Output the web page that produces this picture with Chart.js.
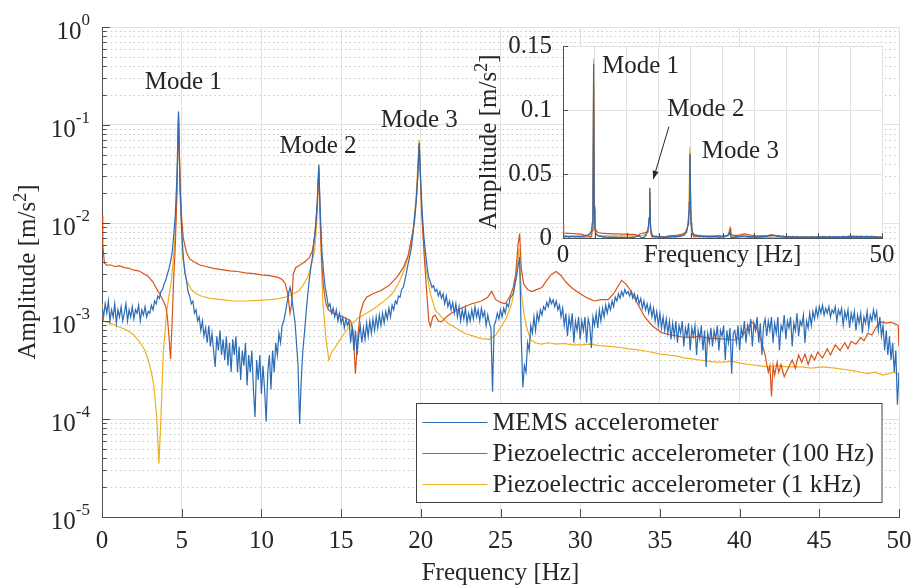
<!DOCTYPE html>
<html>
<head>
<meta charset="utf-8">
<script src="https://cdn.jsdelivr.net/npm/chart.js@4.4.1/dist/chart.umd.min.js"></script>
<style>
  html, body { margin: 0; padding: 0; background: #fff; }
  #wrap { position: relative; width: 914px; height: 588px; }
  #main { position: absolute; left: 0; top: 0; }
  #inset { position: absolute; left: 460px; top: 20px; }
</style>
</head>
<body>
<div id="wrap">
  <canvas id="main" width="914" height="588"></canvas>
  <canvas id="inset" width="440" height="260"></canvas>
</div>
<script>
// ---- data ----
const decades = [1e-5, 1e-4, 1e-3, 1e-2, 1e-1, 1];
const minorSteps = [2, 3, 4, 5, 6, 7, 8, 9];

// MEMS spectrum, sampled every 0.1 Hz from 0 to 50 Hz (one row per Hz)
const memsStep = 0.1;
const memsAmp = [
  1.4e-3, 1.1e-3, 1.5e-3, 1.2e-3, 1.6e-3, 1.0e-3, 1.3e-3, 1.1e-3, 1.5e-3, 9.5e-4,
  1.3e-3, 1.1e-3, 1.4e-3, 1.0e-3, 1.2e-3, 1.5e-3, 1.0e-3, 1.3e-3, 1.1e-3, 1.4e-3,
  1.05e-3, 1.3e-3, 1.2e-3, 1.45e-3, 1.0e-3, 1.3e-3, 1.15e-3, 1.4e-3, 1.1e-3, 1.25e-3,
  1.2e-3, 1.45e-3, 1.3e-3, 1.6e-3, 1.5e-3, 1.8e-3, 1.7e-3, 2.0e-3, 2.1e-3, 2.4e-3,
  2.6e-3, 3.0e-3, 3.4e-3, 4.0e-3, 5.0e-3, 7.5e-3, 0.012, 0.03, 0.136, 0.022,
  8e-3, 4.5e-3, 3.1e-3, 2.6e-3, 2.0e-3, 1.8e-3, 1.5e-3, 1.6e-3, 1.2e-3, 1.3e-3,
  1.0e-3, 1.1e-3, 8e-4, 1.0e-3, 7e-4, 8.5e-4, 6e-4, 9e-4, 5.5e-4, 7.5e-4,
  5e-4, 3.4e-4, 7e-4, 5e-4, 8e-4, 4.5e-4, 6.5e-4, 4e-4, 7e-4, 3.5e-4,
  6e-4, 3e-4, 6.5e-4, 4.5e-4, 7e-4, 3e-4, 5.5e-4, 2.5e-4, 5e-4, 3.5e-4,
  6e-4, 2.2e-4, 4.5e-4, 3e-4, 5e-4, 2e-4, 1.05e-4, 4e-4, 2.5e-4, 4.5e-4,
  1.8e-4, 3.5e-4, 2e-4, 9.4e-5, 3e-4, 4.5e-4, 2e-4, 5e-4, 3e-4, 6e-4,
  4.5e-4, 7.5e-4, 6e-4, 9e-4, 1.0e-3, 1.2e-3, 1.5e-3, 1.9e-3, 2.2e-3, 1.8e-3,
  1.3e-3, 1.0e-3, 6e-4, 3.5e-4, 8.9e-5, 2.5e-4, 5e-4, 7.5e-4, 1.2e-3, 1.8e-3,
  2.6e-3, 3.5e-3, 4.5e-3, 6.5e-3, 9e-3, 0.016, 0.039, 0.012, 5e-3, 3.2e-3,
  2.2e-3, 1.8e-3, 1.4e-3, 1.5e-3, 1.2e-3, 1.35e-3, 1.1e-3, 1.3e-3, 1.0e-3, 1.2e-3,
  9.5e-4, 1.1e-3, 8.5e-4, 1.05e-3, 9e-4, 1.0e-3, 6e-4, 9e-4, 5e-4, 8e-4,
  4.5e-4, 7e-4, 9e-4, 6e-4, 8.5e-4, 6.5e-4, 9.5e-4, 7e-4, 1.0e-3, 7.5e-4,
  1.05e-3, 8e-4, 1.1e-3, 8.5e-4, 1.15e-3, 9e-4, 1.2e-3, 9.5e-4, 1.25e-3, 1.05e-3,
  1.35e-3, 1.1e-3, 1.45e-3, 1.3e-3, 1.6e-3, 1.5e-3, 1.8e-3, 1.75e-3, 2.1e-3, 2.2e-3,
  2.6e-3, 3.1e-3, 3.8e-3, 4.5e-3, 5.5e-3, 7.5e-3, 0.011, 0.016, 0.028, 0.066,
  0.025, 0.012, 7e-3, 4.9e-3, 3.5e-3, 2.8e-3, 2.5e-3, 2.2e-3, 2.3e-3, 2.0e-3,
  2.1e-3, 1.8e-3, 2.0e-3, 1.7e-3, 1.9e-3, 1.5e-3, 1.8e-3, 1.4e-3, 1.6e-3, 1.3e-3,
  1.55e-3, 1.2e-3, 1.5e-3, 1.1e-3, 1.4e-3, 1.0e-3, 1.3e-3, 1.05e-3, 1.35e-3, 9.5e-4,
  1.2e-3, 1.0e-3, 1.3e-3, 1.05e-3, 1.4e-3, 1.1e-3, 1.3e-3, 1.0e-3, 1.35e-3, 1.1e-3,
  1.25e-3, 9e-4, 1.15e-3, 9.5e-4, 8.5e-4, 1.9e-4, 9e-4, 1.0e-3, 1.2e-3, 1.05e-3,
  1.3e-3, 1.1e-3, 1.35e-3, 1.2e-3, 1.5e-3, 1.4e-3, 1.7e-3, 1.8e-3, 1.9e-3, 2.4e-3,
  2.8e-3, 3.6e-3, 4.5e-3, 7e-4, 2.1e-4, 3.5e-4, 3e-4, 6e-4, 5e-4, 9e-4,
  7.5e-4, 1.1e-3, 8e-4, 1.2e-3, 1.0e-3, 1.3e-3, 1.15e-3, 1.4e-3, 1.3e-3, 1.55e-3,
  1.4e-3, 1.7e-3, 1.5e-3, 1.65e-3, 1.4e-3, 1.6e-3, 1.3e-3, 1.45e-3, 1.1e-3, 1.35e-3,
  9e-4, 1.2e-3, 7e-4, 1.1e-3, 8.5e-4, 1.2e-3, 6e-4, 1.0e-3, 8e-4, 1.1e-3,
  6.5e-4, 1.0e-3, 8e-4, 1.1e-3, 6e-4, 1.05e-3, 9e-4, 5.3e-4, 1.1e-3, 9e-4,
  1.2e-3, 8.5e-4, 1.3e-3, 1.0e-3, 1.35e-3, 1.1e-3, 1.45e-3, 1.2e-3, 1.5e-3, 1.3e-3,
  1.6e-3, 1.4e-3, 1.75e-3, 1.6e-3, 1.9e-3, 1.7e-3, 2.0e-3, 1.8e-3, 2.1e-3, 1.9e-3,
  2.0e-3, 1.8e-3, 2.0e-3, 1.7e-3, 1.9e-3, 1.6e-3, 1.8e-3, 1.5e-3, 1.7e-3, 1.35e-3,
  1.6e-3, 1.3e-3, 1.5e-3, 1.2e-3, 1.45e-3, 1.1e-3, 1.35e-3, 1.0e-3, 1.25e-3, 9e-4,
  1.2e-3, 8.5e-4, 1.1e-3, 8e-4, 1.05e-3, 7.5e-4, 1.0e-3, 6.5e-4, 9.5e-4, 7e-4,
  1.0e-3, 6e-4, 9e-4, 7.5e-4, 1.0e-3, 5.5e-4, 8.5e-4, 7e-4, 9.5e-4, 5e-4,
  8.5e-4, 7e-4, 9e-4, 4.5e-4, 8e-4, 6.5e-4, 9e-4, 5e-4, 8e-4, 3.4e-4,
  7.5e-4, 6e-4, 8.5e-4, 5.5e-4, 8e-4, 6.5e-4, 9e-4, 5e-4, 8e-4, 7e-4,
  9e-4, 4e-4, 8e-4, 6e-4, 8.5e-4, 2.9e-4, 7.5e-4, 8e-4, 6e-4, 9e-4,
  5e-4, 8.5e-4, 7e-4, 1.0e-3, 6e-4, 9e-4, 7.5e-4, 1.05e-3, 5.5e-4, 9.5e-4,
  8e-4, 1.1e-3, 6e-4, 9.5e-4, 4.5e-4, 9e-4, 1.05e-3, 7e-4, 1.0e-3, 8e-4,
  1.1e-3, 6e-4, 9.5e-4, 7.5e-4, 1.1e-3, 5e-4, 9e-4, 8e-4, 1.15e-3, 6.5e-4,
  1.0e-3, 8.5e-4, 1.1e-3, 5.5e-4, 9.5e-4, 8e-4, 1.2e-3, 7e-4, 1.0e-3, 9e-4,
  1.15e-3, 6e-4, 1.0e-3, 8.5e-4, 1.2e-3, 9e-4, 1.25e-3, 1.05e-3, 1.35e-3, 1.1e-3,
  1.4e-3, 1.2e-3, 1.45e-3, 1.15e-3, 1.35e-3, 1.2e-3, 1.4e-3, 1.1e-3, 1.3e-3, 1.2e-3,
  1.4e-3, 1.0e-3, 1.3e-3, 1.15e-3, 1.35e-3, 9e-4, 1.25e-3, 1.05e-3, 1.3e-3, 8.5e-4,
  1.2e-3, 1.0e-3, 1.25e-3, 8e-4, 1.15e-3, 9.5e-4, 1.2e-3, 7.5e-4, 1.1e-3, 9.5e-4,
  1.25e-3, 8.5e-4, 1.15e-3, 1.0e-3, 1.3e-3, 1.05e-3, 1.25e-3, 8e-4, 1.1e-3, 7e-4,
  9e-4, 5e-4, 8e-4, 4.5e-4, 7e-4, 4e-4, 6e-4, 3e-4, 5e-4, 1.4e-4,
  3e-4
];

// piezoelectric accelerometer, 100 Hz range: [frequency Hz, amplitude m/s^2]
const piezo100 = [
  [0, 0.012], [0.05, 6e-3], [0.15, 3.9e-3], [0.3, 3.7e-3], [0.5, 3.75e-3], [0.8, 3.6e-3],
  [1.1, 3.65e-3], [1.4, 3.5e-3], [1.7, 3.45e-3], [2.0, 3.3e-3], [2.3, 3.25e-3], [2.6, 3.05e-3],
  [2.9, 2.85e-3], [3.2, 2.5e-3], [3.45, 2.1e-3], [3.65, 1.85e-3], [3.85, 1.6e-3], [4.0, 1.4e-3],
  [4.1, 1.1e-3], [4.2, 7e-4], [4.3, 4.1e-4], [4.4, 1.0e-3], [4.5, 2.8e-3], [4.6, 6e-3],
  [4.7, 0.02], [4.8, 0.12], [4.9, 0.025], [5.0, 0.011], [5.1, 7e-3], [5.3, 5e-3],
  [5.5, 4.3e-3], [5.8, 4.0e-3], [6.1, 3.75e-3], [6.5, 3.6e-3], [7.0, 3.45e-3], [7.5, 3.35e-3],
  [8.0, 3.25e-3], [8.5, 3.2e-3], [9.0, 3.1e-3], [9.5, 3.05e-3], [10.0, 2.95e-3], [10.5, 2.9e-3],
  [11.0, 2.8e-3], [11.3, 2.65e-3], [11.5, 2.4e-3], [11.65, 1.9e-3], [11.8, 1.2e-3], [11.9, 1.5e-3],
  [12.0, 3.0e-3], [12.15, 3.5e-3], [12.4, 3.7e-3], [12.7, 4.0e-3], [13.0, 4.4e-3], [13.2, 5.2e-3],
  [13.35, 7.5e-3], [13.5, 0.015], [13.6, 0.036], [13.7, 0.01], [13.8, 3.5e-3], [13.9, 2.2e-3],
  [14.05, 1.5e-3], [14.2, 1.3e-3], [14.5, 1.2e-3], [14.8, 1.15e-3], [15.1, 1.1e-3], [15.4, 1.05e-3],
  [15.6, 1.0e-3], [15.75, 8e-4], [15.9, 2.9e-4], [16.05, 7e-4], [16.2, 1.2e-3], [16.4, 1.55e-3],
  [16.6, 1.75e-3], [17.0, 1.9e-3], [17.5, 2.05e-3], [18.0, 2.3e-3], [18.5, 2.8e-3], [18.9, 3.5e-3],
  [19.2, 4.6e-3], [19.45, 7.5e-3], [19.6, 0.01], [19.75, 0.02], [19.9, 0.065], [20.05, 0.014],
  [20.2, 5e-3], [20.35, 2.2e-3], [20.5, 1.0e-3], [20.6, 8.8e-4], [20.75, 1.1e-3], [20.9, 1.15e-3],
  [21.1, 1.0e-3], [21.3, 9.8e-4], [21.6, 1.1e-3], [21.9, 1.2e-3], [22.3, 1.3e-3], [22.75, 1.4e-3],
  [23.2, 1.5e-3], [23.8, 1.6e-3], [24.2, 1.75e-3], [24.45, 2.0e-3], [24.7, 1.65e-3], [25.0, 1.55e-3],
  [25.3, 1.5e-3], [25.6, 1.8e-3], [25.8, 2.2e-3], [25.95, 3e-3], [26.1, 6e-3], [26.2, 7.8e-3],
  [26.3, 3.5e-3], [26.45, 2.4e-3], [26.7, 2.1e-3], [26.95, 2.0e-3], [27.3, 2.1e-3], [27.6, 2.2e-3],
  [27.9, 2.6e-3], [28.2, 3.0e-3], [28.5, 3.2e-3], [28.8, 2.9e-3], [29.1, 2.5e-3], [29.45, 2.2e-3],
  [29.8, 2.0e-3], [30.1, 1.85e-3], [30.5, 1.7e-3], [30.9, 1.6e-3], [31.3, 1.65e-3], [31.75, 1.65e-3],
  [32.1, 1.9e-3], [32.4, 2.3e-3], [32.6, 2.6e-3], [32.9, 2.35e-3], [33.2, 2.0e-3], [33.6, 1.5e-3],
  [34.05, 1.1e-3], [34.5, 9e-4], [35.1, 7.6e-4], [35.7, 7.2e-4], [36.35, 6.9e-4], [37.0, 6.8e-4],
  [37.5, 7e-4], [38.0, 6.7e-4], [38.6, 6.6e-4], [39.2, 6.5e-4], [39.7, 6.4e-4], [40.1, 6.8e-4],
  [40.4, 8e-4], [40.75, 9.8e-4], [41.0, 9e-4], [41.2, 7.5e-4], [41.4, 6e-4], [41.6, 4.5e-4],
  [41.8, 3e-4], [41.9, 3.5e-4], [42.0, 1.7e-4], [42.1, 3.5e-4], [42.2, 2.8e-4], [42.35, 3.8e-4],
  [42.45, 3e-4], [42.6, 3.6e-4], [42.8, 2.7e-4], [43.05, 3.3e-4], [43.3, 4e-4], [43.5, 3.3e-4],
  [43.7, 4.5e-4], [43.9, 3.8e-4], [44.1, 4.6e-4], [44.3, 3.6e-4], [44.5, 4.5e-4], [44.7, 4e-4],
  [44.9, 4.8e-4], [45.2, 4.2e-4], [45.5, 5.2e-4], [45.7, 4.5e-4], [46.0, 5.7e-4], [46.3, 5e-4],
  [46.6, 6e-4], [46.8, 5.2e-4], [47.0, 6.2e-4], [47.3, 5.8e-4], [47.6, 6.8e-4], [47.8, 6.3e-4],
  [48.05, 7.5e-4], [48.3, 7.2e-4], [48.6, 8.8e-4], [48.9, 9.8e-4], [49.2, 9.5e-4], [49.5, 9.7e-4],
  [49.8, 9.3e-4], [49.95, 9e-4], [50, 5.5e-4]
];

// piezoelectric accelerometer, 1 kHz range
const piezo1k = [
  [0, 1.5e-3], [0.1, 1.0e-3], [0.5, 9.5e-4], [1.0, 8.8e-4], [1.55, 8.1e-4], [2.0, 7.2e-4],
  [2.4, 6e-4], [2.7, 5e-4], [2.9, 4e-4], [3.1, 3e-4], [3.25, 2.2e-4], [3.43, 1.06e-4],
  [3.57, 3.5e-5], [3.7, 1.05e-4], [3.84, 4.7e-4], [4.05, 1.2e-3], [4.2, 1.8e-3], [4.36, 2.6e-3],
  [4.57, 6.7e-3], [4.7, 0.02], [4.8, 0.14], [4.9, 0.02], [5.06, 4.5e-3], [5.3, 2.6e-3],
  [5.6, 2.1e-3], [5.9, 1.9e-3], [6.3, 1.78e-3], [6.8, 1.7e-3], [7.5, 1.65e-3], [8.2, 1.6e-3],
  [9.0, 1.6e-3], [9.8, 1.62e-3], [10.5, 1.65e-3], [11.0, 1.68e-3], [11.5, 1.75e-3], [12.0, 1.9e-3],
  [12.3, 2.0e-3], [12.6, 2.3e-3], [12.9, 2.8e-3], [13.15, 3.8e-3], [13.35, 5.3e-3], [13.5, 0.012],
  [13.6, 0.0395], [13.7, 8e-3], [13.85, 1.6e-3], [14.06, 6.4e-4], [14.23, 4e-4], [14.4, 4.8e-4],
  [14.6, 5.3e-4], [14.9, 6.3e-4], [15.2, 7.5e-4], [15.6, 9e-4], [16.05, 1.07e-3], [16.6, 1.2e-3],
  [17.1, 1.35e-3], [17.6, 1.55e-3], [18.15, 1.85e-3], [18.6, 2.4e-3], [18.95, 3.3e-3], [19.25, 4.8e-3],
  [19.5, 7.9e-3], [19.7, 0.018], [19.9, 0.0708], [20.05, 0.012], [20.3, 3.6e-3], [20.6, 1.9e-3],
  [20.9, 1.3e-3], [21.3, 1.1e-3], [21.7, 9.5e-4], [22.2, 8.5e-4], [22.75, 7.5e-4], [23.3, 7e-4],
  [23.8, 6.6e-4], [24.3, 6.5e-4], [24.7, 7.2e-4], [25.05, 8.8e-4], [25.4, 1.1e-3], [25.7, 1.5e-3],
  [25.95, 2.5e-3], [26.15, 5.5e-3], [26.3, 2.0e-3], [26.5, 1.1e-3], [26.7, 8e-4], [26.9, 6.4e-4],
  [27.2, 6e-4], [27.55, 5.8e-4], [28.0, 6e-4], [28.5, 5.8e-4], [29.0, 5.9e-4], [29.5, 5.7e-4],
  [30.1, 5.7e-4], [30.6, 5.8e-4], [31.2, 5.6e-4], [31.8, 5.5e-4], [32.4, 5.4e-4], [33.0, 5.2e-4],
  [33.5, 5.1e-4], [33.9, 5e-4], [34.5, 4.8e-4], [35.0, 4.6e-4], [35.5, 4.5e-4], [36.0, 4.4e-4],
  [36.5, 4.2e-4], [37.0, 4.1e-4], [37.5, 4e-4], [38.0, 3.9e-4], [38.5, 3.8e-4], [39.0, 3.8e-4],
  [39.5, 3.9e-4], [40.1, 3.7e-4], [40.6, 3.6e-4], [41.2, 3.5e-4], [41.8, 3.4e-4], [42.4, 3.5e-4],
  [43.0, 3.4e-4], [43.9, 3.4e-4], [44.5, 3.3e-4], [45.2, 3.4e-4], [46.0, 3.3e-4], [46.6, 3.2e-4],
  [47.2, 3.1e-4], [47.6, 3e-4], [48.0, 2.9e-4], [48.5, 3e-4], [49.0, 2.8e-4], [49.7, 3e-4],
  [50, 2.8e-4]
];

const seriesLabels = [
  'MEMS accelerometer',
  'Piezoelectric accelerometer (100 Hz)',
  'Piezoelectric accelerometer (1 kHz)'
];
const seriesColors = ['#2c6cb6', '#d95319', '#edb120'];

// annotation anchors in data units [Hz, m/s^2]
const modeLabels = ['Mode 1', 'Mode 2', 'Mode 3'];
const modeMainAt = [[5.1, 0.275], [13.55, 0.06], [19.9, 0.112]];
const modeInsetAt = [[12.15, 0.134], [22.4, 0.1008], [27.8, 0.0673]];
const insetArrow = [[16.6, 0.087], [14.15, 0.046]];

// ---- styling ----
const FONT = '"Liberation Serif", "Times New Roman", serif';
const TEXT = '#262626';
const AXIS = '#505050';
const GRID = '#e2e2e2';
const DOT = '#c9c9c9';

function makeDatasets() {
  const mems = memsAmp.map((a, i) => ({ x: Math.round(i * memsStep * 10) / 10, y: a }));
  const p100 = piezo100.map(p => ({ x: p[0], y: p[1] }));
  const p1k = piezo1k.map(p => ({ x: p[0], y: p[1] }));
  return [mems, p100, p1k].map((d, i) => ({
    label: seriesLabels[i],
    data: d,
    borderColor: seriesColors[i],
    borderWidth: 1.2,
    pointRadius: 0,
    fill: false,
    tension: 0
  }));
}

// inward tick marks like MATLAB
function drawTicks(ctx, scale, values, len, area, vertical) {
  ctx.beginPath();
  values.forEach(v => {
    const p = Math.round(scale.getPixelForValue(v)) + 0.5;
    if (vertical) { ctx.moveTo(area.left, p); ctx.lineTo(area.left + len, p); }
    else { ctx.moveTo(p, area.bottom); ctx.lineTo(p, area.bottom - len); }
  });
  ctx.stroke();
}

// rotated "Amplitude [m/s^2]" with a real superscript
function drawYTitle(ctx, cx, cy) {
  const parts = [['Amplitude [m/s', 25, 0], ['2', 18, -7], [']', 25, 0]];
  ctx.save();
  ctx.translate(cx, cy);
  ctx.rotate(-Math.PI / 2);
  ctx.fillStyle = TEXT;
  ctx.textBaseline = 'middle';
  ctx.textAlign = 'left';
  let total = 0;
  parts.forEach(p => { ctx.font = p[1] + 'px ' + FONT; total += ctx.measureText(p[0]).width; });
  let px = -total / 2;
  parts.forEach(p => {
    ctx.font = p[1] + 'px ' + FONT;
    ctx.fillText(p[0], px, p[2]);
    px += ctx.measureText(p[0]).width;
  });
  ctx.restore();
}

const mainDecor = {
  id: 'mainDecor',
  beforeDatasetsDraw(chart) {
    const { ctx, chartArea: a, scales: { y } } = chart;
    ctx.save();
    ctx.strokeStyle = DOT;
    ctx.lineWidth = 1;
    ctx.setLineDash([1.5, 3]);
    decades.slice(0, -1).forEach(d => minorSteps.forEach(m => {
      const py = Math.round(y.getPixelForValue(d * m)) + 0.5;
      ctx.beginPath(); ctx.moveTo(a.left, py); ctx.lineTo(a.right, py); ctx.stroke();
    }));
    ctx.restore();
  },
  afterDatasetsDraw(chart) {
    const { ctx, chartArea: a, scales: { x, y } } = chart;
    ctx.save();
    ctx.strokeStyle = AXIS;
    ctx.lineWidth = 1;
    const minors = [];
    decades.slice(0, -1).forEach(d => minorSteps.forEach(m => minors.push(d * m)));
    drawTicks(ctx, y, decades, 8, a, true);
    drawTicks(ctx, y, minors, 4.5, a, true);
    drawTicks(ctx, x, x.ticks.map(t => t.value), 8, a, false);

    // y tick labels 10^n
    ctx.fillStyle = TEXT;
    ctx.textBaseline = 'alphabetic';
    ctx.textAlign = 'left';
    decades.forEach(v => {
      const py = y.getPixelForValue(v);
      const e = String(Math.round(Math.log10(v)));
      ctx.font = '25px ' + FONT;
      const wb = ctx.measureText('10').width;
      ctx.font = '17px ' + FONT;
      const we = ctx.measureText(e).width;
      const right = a.left - 12;
      ctx.fillText(e, right - we, py - 2);
      ctx.font = '25px ' + FONT;
      ctx.fillText('10', right - we - wb, py + 12);
    });
    drawYTitle(ctx, 28.6, (a.top + a.bottom) / 2);

    // mode labels
    ctx.font = '25px ' + FONT;
    ctx.textAlign = 'center';
    ctx.textBaseline = 'middle';
    modeLabels.forEach((t, i) => {
      ctx.fillText(t, x.getPixelForValue(modeMainAt[i][0]), y.getPixelForValue(modeMainAt[i][1]));
    });

    // legend box, bottom right of the axes
    const rowGap = 31;
    ctx.font = '25.7px ' + FONT;
    const maxW = Math.max(...chart.data.datasets.map(d => ctx.measureText(d.label).width));
    const boxW = 6 + 65 + 5 + maxW + 8;
    const boxH = 99;
    const bx = Math.round(a.right - 17 - boxW) + 0.5;
    const by = Math.round(a.bottom - 15 - boxH) + 0.5;
    ctx.fillStyle = '#ffffff';
    ctx.fillRect(bx, by, boxW, boxH);
    ctx.strokeStyle = '#404040';
    ctx.strokeRect(bx, by, boxW, boxH);
    ctx.textAlign = 'left';
    ctx.textBaseline = 'middle';
    chart.data.datasets.forEach((d, i) => {
      const ry = by + 19 + i * rowGap;
      ctx.strokeStyle = d.borderColor;
      ctx.lineWidth = 1.2;
      ctx.beginPath(); ctx.moveTo(bx + 6, ry); ctx.lineTo(bx + 71, ry); ctx.stroke();
      ctx.fillStyle = TEXT;
      ctx.fillText(d.label, bx + 76, ry + 1);
    });
    ctx.restore();
  }
};

const insetDecor = {
  id: 'insetDecor',
  beforeDraw(chart) {
    const { ctx, chartArea: a } = chart;
    ctx.save();
    ctx.fillStyle = '#ffffff';
    ctx.fillRect(a.left, a.top, a.right - a.left, a.bottom - a.top);
    ctx.restore();
  },
  afterDatasetsDraw(chart) {
    const { ctx, chartArea: a, scales: { x, y } } = chart;
    ctx.save();
    ctx.strokeStyle = AXIS;
    ctx.lineWidth = 1;
    drawTicks(ctx, y, y.ticks.map(t => t.value), 5, a, true);
    drawTicks(ctx, x, x.ticks.map(t => t.value), 5, a, false);
    drawYTitle(ctx, 29, (a.top + a.bottom) / 2);

    ctx.fillStyle = TEXT;
    ctx.font = '25px ' + FONT;
    ctx.textAlign = 'center';
    ctx.textBaseline = 'middle';
    modeLabels.forEach((t, i) => {
      ctx.fillText(t, x.getPixelForValue(modeInsetAt[i][0]), y.getPixelForValue(modeInsetAt[i][1]));
    });

    // arrow pointing at mode 2
    const x0 = x.getPixelForValue(insetArrow[0][0]), y0 = y.getPixelForValue(insetArrow[0][1]);
    const x1 = x.getPixelForValue(insetArrow[1][0]), y1 = y.getPixelForValue(insetArrow[1][1]);
    const ang = Math.atan2(y1 - y0, x1 - x0);
    ctx.strokeStyle = TEXT;
    ctx.beginPath(); ctx.moveTo(x0, y0); ctx.lineTo(x1, y1); ctx.stroke();
    ctx.beginPath();
    ctx.moveTo(x1, y1);
    ctx.lineTo(x1 - 9 * Math.cos(ang - 0.35), y1 - 9 * Math.sin(ang - 0.35));
    ctx.lineTo(x1 - 9 * Math.cos(ang + 0.35), y1 - 9 * Math.sin(ang + 0.35));
    ctx.closePath();
    ctx.fillStyle = TEXT;
    ctx.fill();
    ctx.restore();
  }
};

const tickFont = { family: FONT, size: 25 };

new Chart(document.getElementById('main'), {
  type: 'line',
  data: { datasets: makeDatasets() },
  options: {
    responsive: false,
    animation: false,
    devicePixelRatio: 1,
    layout: { padding: { left: 0, top: 27, right: 15, bottom: 0 } },
    plugins: { legend: { display: false }, tooltip: { enabled: false } },
    scales: {
      x: {
        type: 'linear', min: 0, max: 50,
        ticks: { stepSize: 5, autoSkip: false, maxRotation: 0, color: TEXT, font: tickFont, padding: 9 },
        grid: { color: GRID, drawTicks: false },
        border: { color: AXIS },
        title: { display: true, text: 'Frequency [Hz]', color: TEXT, font: tickFont, padding: { top: 0, bottom: 0 } },
        afterFit: s => { s.height = 71; s.paddingLeft = 0; s.paddingRight = 0; }
      },
      y: {
        type: 'logarithmic', min: 1e-5, max: 1,
        afterBuildTicks: s => { s.ticks = decades.map(v => ({ value: v, major: true })); },
        ticks: { display: false },
        grid: { color: GRID, drawTicks: false },
        border: { color: AXIS },
        afterFit: s => { s.width = 102; }
      }
    }
  },
  plugins: [mainDecor]
});

new Chart(document.getElementById('inset'), {
  type: 'line',
  data: { datasets: makeDatasets() },
  options: {
    responsive: false,
    animation: false,
    devicePixelRatio: 1,
    layout: { padding: { left: 0, top: 23, right: 18, bottom: 0 } },
    plugins: { legend: { display: false }, tooltip: { enabled: false } },
    scales: {
      x: {
        type: 'linear', min: 0, max: 50,
        ticks: {
          stepSize: 5, autoSkip: false, maxRotation: 0, color: TEXT, font: tickFont, padding: 2,
          callback: v => (v === 0 || v === 50) ? String(v) : ''
        },
        grid: { color: GRID, drawTicks: false },
        border: { color: AXIS },
        title: { display: true, text: 'Frequency [Hz]', color: TEXT, font: tickFont, padding: { top: 0, bottom: 10 } },
        afterFit: s => { s.height = 42; s.paddingLeft = 0; s.paddingRight = 0; }
      },
      y: {
        type: 'linear', min: 0, max: 0.15,
        ticks: {
          stepSize: 0.05, color: TEXT, font: tickFont, padding: 11,
          callback: v => String(Math.round(v * 100) / 100)
        },
        grid: { color: GRID, drawTicks: false },
        border: { color: AXIS },
        afterFit: s => { s.width = 103; }
      }
    }
  },
  plugins: [insetDecor]
});
</script>
</body>
</html>
